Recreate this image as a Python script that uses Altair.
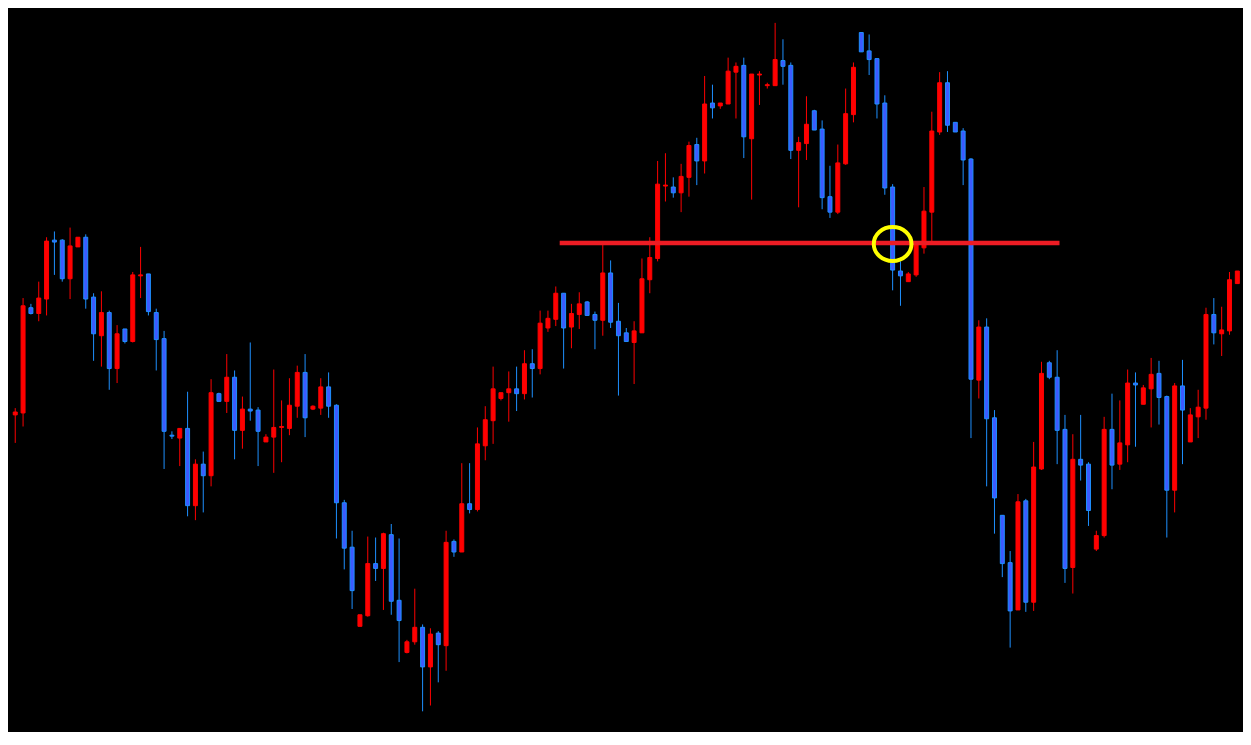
import altair as alt
import pandas as pd

# Candle values (vertical level, smaller = higher on screen)
opens = [419, 417, 308, 314, 299, 238, 238, 278, 245, 235, 297, 337, 313, 371, 330, 343, 275, 273, 313, 340,
         440, 443, 433, 513, 470, 482, 397, 405, 380, 435, 413, 414, 447, 442, 432, 433, 410, 375, 413, 412,
         390, 409, 510, 556, 638, 627, 573, 578, 543, 611, 665, 654, 639, 680, 645, 658, 550, 561, 511, 517,
         451, 425, 402, 396, 392, 397, 366, 371, 329, 320, 293, 328, 315, 302, 315, 321, 272, 322, 334, 344,
         334, 279, 257, 182, 183, 189, 173, 139, 156, 96, 99, 97, 64, 57, 133, 67, 78, 78, 52, 57,
         145, 138, 104, 123, 193, 209, 159, 108, 23, 42, 50, 96, 183, 270, 281, 274, 246, 209, 126, 75,
         116, 125, 154, 383, 328, 422, 523, 572, 621, 508, 613, 475, 365, 380, 434, 577, 465, 470, 558, 544,
         434, 470, 450, 386, 408, 392, 376, 400, 497, 389, 447, 421, 412, 315, 335, 332, 283]
highs = [412, 298, 304, 281, 235, 229, 237, 225, 235, 232, 293, 291, 311, 326, 330, 271, 245, 273, 309, 332,
         436, 433, 395, 465, 457, 382, 396, 356, 373, 400, 344, 411, 439, 372, 404, 381, 368, 356, 409, 381,
         375, 408, 507, 539, 626, 545, 546, 541, 532, 547, 652, 599, 636, 640, 643, 539, 548, 469, 469, 432,
         410, 369, 396, 374, 369, 352, 351, 311, 311, 286, 293, 304, 292, 301, 312, 243, 259, 303, 329, 322,
         257, 235, 156, 148, 173, 159, 136, 132, 68, 77, 96, 49, 54, 49, 66, 63, 75, 13, 30, 54,
         131, 89, 103, 114, 161, 139, 81, 54, 23, 25, 50, 88, 180, 260, 271, 240, 183, 105, 64, 63,
         116, 122, 153, 321, 319, 414, 523, 560, 501, 506, 447, 364, 363, 352, 419, 439, 419, 468, 539, 421,
         397, 404, 372, 375, 388, 360, 363, 399, 386, 362, 412, 393, 308, 298, 307, 271, 270]
lows = [448, 431, 315, 322, 316, 274, 281, 299, 245, 309, 363, 369, 393, 386, 345, 344, 298, 316, 373, 475,
        444, 472, 524, 528, 520, 493, 405, 417, 465, 454, 425, 472, 447, 479, 468, 440, 422, 442, 414, 419,
        422, 547, 579, 620, 638, 628, 591, 621, 626, 675, 666, 657, 726, 720, 696, 684, 566, 561, 521, 519,
        466, 449, 404, 426, 415, 403, 401, 377, 333, 327, 371, 350, 330, 316, 351, 337, 329, 399, 343, 387,
        334, 293, 260, 198, 194, 209, 193, 181, 169, 112, 102, 97, 112, 153, 196, 98, 81, 78, 77, 154,
        204, 155, 124, 206, 215, 211, 160, 116, 43, 67, 112, 191, 290, 306, 281, 276, 252, 240, 129, 126,
        126, 181, 443, 402, 493, 542, 587, 660, 621, 623, 622, 476, 382, 470, 593, 604, 487, 534, 560, 546,
        496, 476, 468, 452, 408, 432, 429, 546, 520, 470, 447, 443, 424, 346, 358, 336, 283]
closes = [416, 306, 314, 298, 239, 240, 278, 244, 235, 299, 335, 313, 371, 335, 343, 274, 274, 312, 341, 436,
          441, 433, 513, 470, 482, 396, 405, 380, 435, 413, 415, 436, 442, 432, 431, 409, 375, 422, 410, 390,
          410, 510, 557, 601, 626, 573, 578, 542, 612, 632, 654, 639, 680, 646, 657, 551, 561, 511, 517, 449,
          424, 392, 396, 392, 397, 366, 371, 324, 319, 293, 329, 314, 304, 316, 321, 272, 323, 337, 343, 332,
          278, 256, 180, 181, 189, 172, 140, 156, 97, 101, 96, 63, 58, 131, 66, 66, 77, 51, 58, 145,
          137, 118, 124, 194, 209, 158, 107, 59, 43, 51, 97, 184, 269, 275, 273, 242, 208, 125, 75, 119,
          126, 155, 382, 328, 423, 505, 573, 622, 509, 613, 473, 376, 380, 435, 578, 465, 471, 518, 544, 434,
          471, 448, 386, 388, 391, 377, 401, 497, 389, 414, 419, 411, 315, 334, 331, 279, 270]

# Annotation: horizontal level line and highlighted candle
level_start = [69.5]
level_end = [133.3]
level_value = [241]
mark_bar_index = [112]
mark_level = [242]

df = pd.DataFrame({"bar": list(range(len(opens))), "open": opens, "high": highs,
                   "low": lows, "close": closes})
line_df = pd.DataFrame({"start": level_start, "end": level_end, "level": level_value})
circle_df = pd.DataFrame({"bar": mark_bar_index, "level": mark_level})

xs = alt.Scale(domain=[-0.29, 156.09], nice=False, zero=False)
ys = alt.Scale(domain=[0, 745], reverse=True, nice=False, zero=False)

dir_dom = ["up", "down"]
wick_col = alt.Scale(domain=dir_dom, range=["#FF0000", "#1E90FF"])
body_fill = alt.Scale(domain=dir_dom, range=["#FF0000", "#3C5AFF"])
body_stroke = alt.Scale(domain=dir_dom, range=["#FF0000", "#1E90FF"])

base = alt.Chart(df).transform_calculate(
    dir="datum.close < datum.open ? 'up' : 'down'"
)

wicks = base.mark_rule(strokeWidth=1, clip=True).encode(
    x=alt.X("bar:Q", scale=xs, axis=None),
    y=alt.Y("high:Q", scale=ys, axis=None),
    y2="low:Q",
    color=alt.Color("dir:N", scale=wick_col, legend=None),
)

bodies = base.mark_bar(size=4, strokeWidth=1, clip=True).encode(
    x=alt.X("bar:Q", scale=xs, axis=None),
    y=alt.Y("open:Q", scale=ys, axis=None),
    y2="close:Q",
    fill=alt.Fill("dir:N", scale=body_fill, legend=None),
    stroke=alt.Stroke("dir:N", scale=body_stroke, legend=None),
)

level_line = alt.Chart(line_df).mark_rule(strokeWidth=4.5, color="#ED1C24").encode(
    x=alt.X("start:Q", scale=xs, axis=None),
    x2="end:Q",
    y=alt.Y("level:Q", scale=ys, axis=None),
)

circle = alt.Chart(circle_df).mark_point(
    shape="M -1 0 A 1 0.9 0 1 0 1 0 A 1 0.9 0 1 0 -1 0",
    size=1444, filled=False, stroke="#FFFF00", strokeWidth=4, opacity=1,
).encode(
    x=alt.X("bar:Q", scale=xs, axis=None),
    y=alt.Y("level:Q", scale=ys, axis=None),
)

chart = alt.layer(wicks, bodies, level_line, circle).properties(
    width=1243, height=724, padding=0, background="black"
).configure_view(stroke=None)

chart.save("out.html", embed_options={"renderer": "svg", "actions": False})
